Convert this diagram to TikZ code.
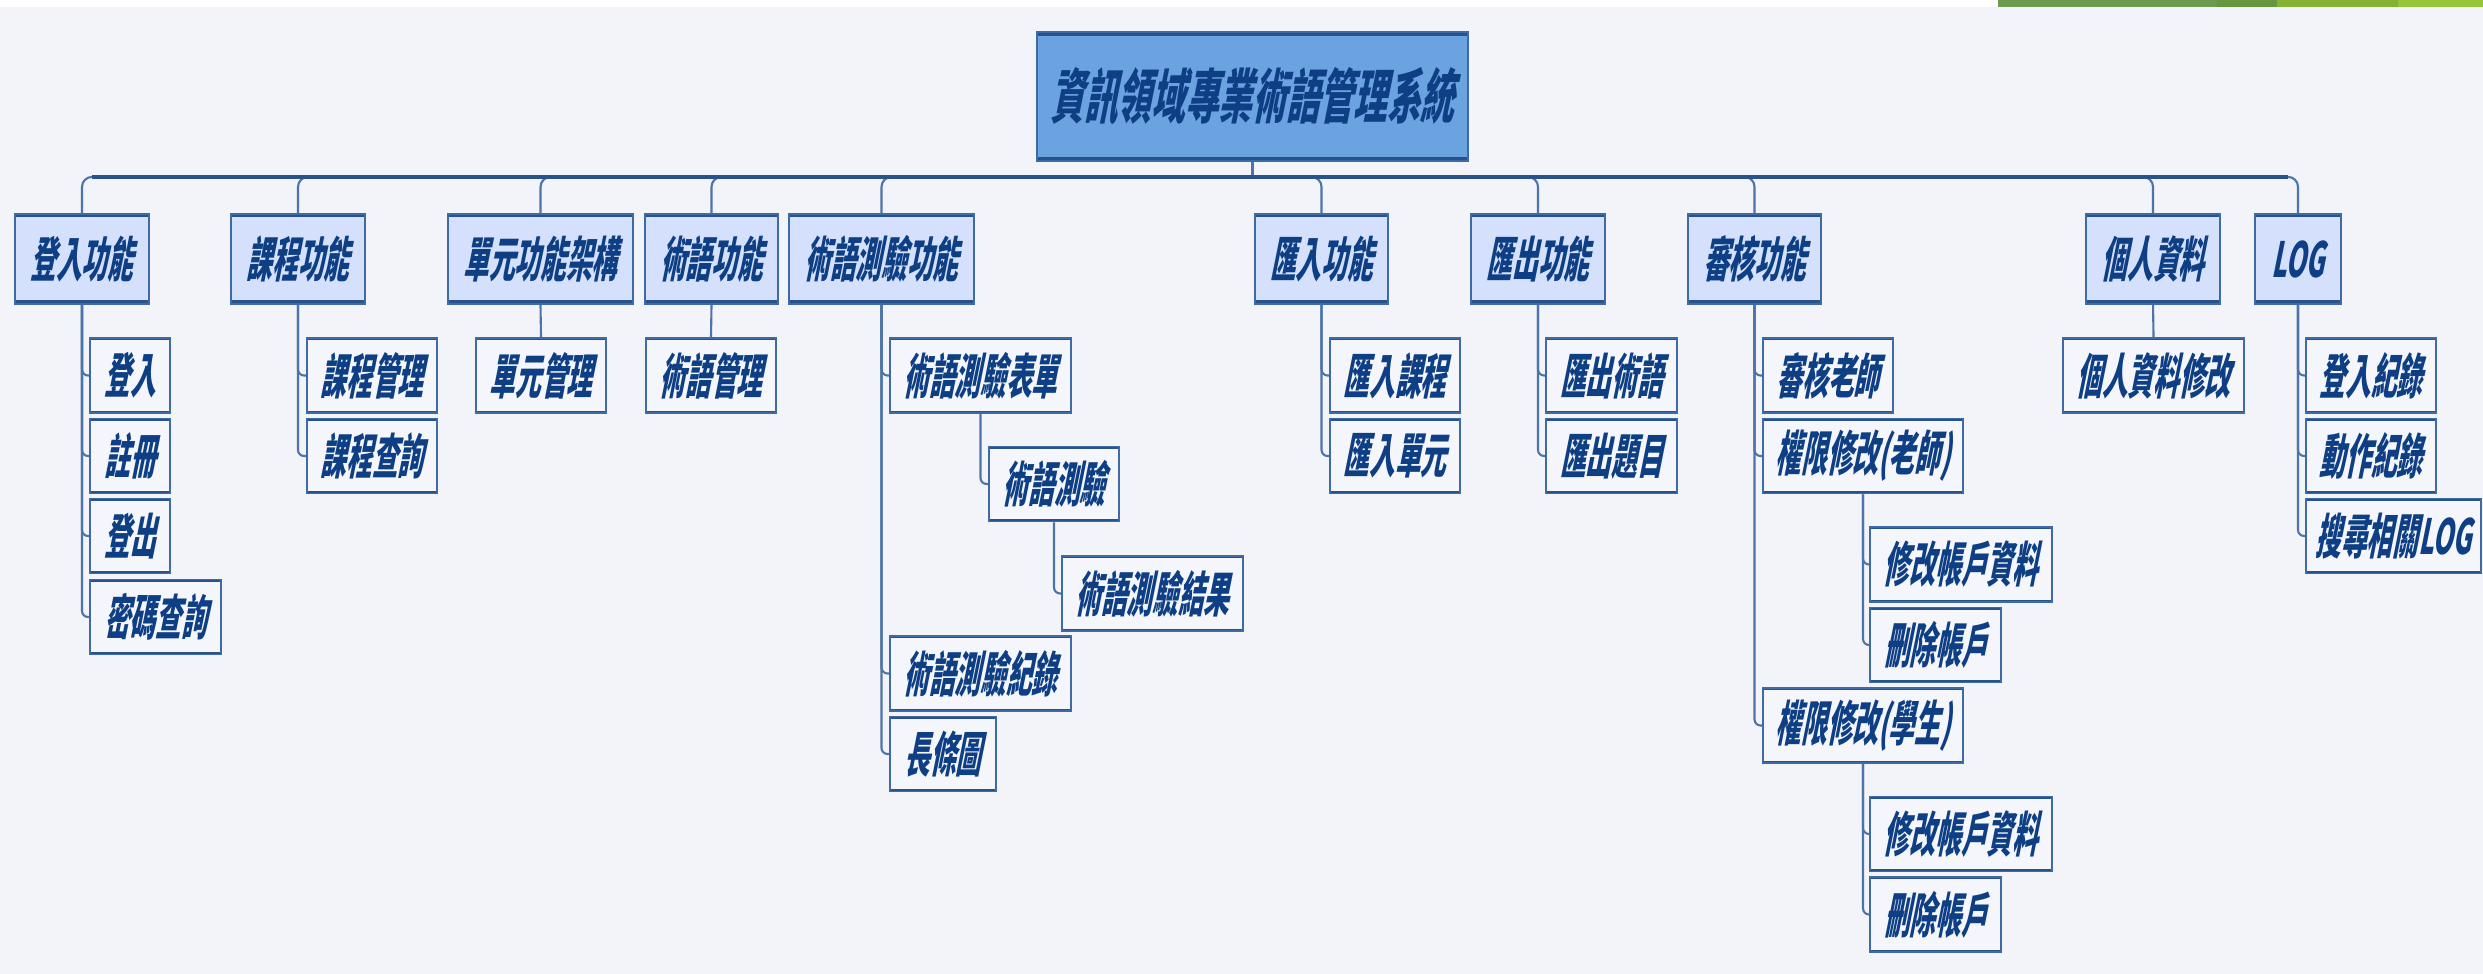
\documentclass[tikz,border=0pt]{standalone}
\usepackage{fontspec}
\usepackage{tikz}
\usepackage{xcolor}
\usetikzlibrary{positioning, calc}
\newfontfamily\cjk{Noto Sans CJK TC}[FakeSlant=0.2, FakeStretch=0.53]
\newfontfamily\cjkroot{Noto Sans CJK TC}[FakeSlant=0.2, FakeStretch=0.57]
\definecolor{bgpanel}{RGB}{242,244,249}
\definecolor{rootfill}{RGB}{106,163,224}
\definecolor{grpfill}{RGB}{212,224,252}
\definecolor{leaffill}{RGB}{245,246,251}
\definecolor{edge}{RGB}{62,106,166}
\definecolor{edgedark}{RGB}{40,82,140}
\definecolor{inkblue}{RGB}{14,63,132}
\definecolor{wire}{RGB}{77,116,168}
\definecolor{greenA}{RGB}{110,154,78}
\definecolor{greenB}{RGB}{102,150,62}
\definecolor{greenC}{RGB}{132,178,50}
\definecolor{greenD}{RGB}{149,197,58}
\tikzset{
  boxbase/.style={rectangle, draw=edge, line width=0.5pt, inner sep=0pt,
                  text=inkblue, font=\cjk\bfseries\fontsize{13.8}{16}\selectfont},
  edged/.style={path picture={
      \draw[edgedark, line width=#1]
        (path picture bounding box.north west) -- (path picture bounding box.north east)
        (path picture bounding box.south west) -- (path picture bounding box.south east);}},
  rootbox/.style={boxbase, fill=rootfill, edged=2.4pt, minimum height=1.29cm,
                  font=\cjkroot\bfseries\fontsize{16.8}{19}\selectfont},
  grpbox/.style={boxbase, fill=grpfill, edged=2pt, minimum height=0.9cm},
  leafbox/.style={boxbase, fill=leaffill, edged=1.2pt, minimum height=0.75cm},
  wired/.style={draw=wire, line width=0.6pt, rounded corners=0.6mm},
  buswire/.style={draw=edgedark, line width=1pt},
}

\begin{document}
\begin{tikzpicture}[x=0.01cm, y=-0.01cm]
  \useasboundingbox (0,0) rectangle (2483,974);
  \fill[bgpanel] (0,0) rectangle (2483,974);
  \fill[white]  (0,0) rectangle (2483,7);
  \fill[greenA] (1998,0) rectangle (2217,7);
  \fill[greenB] (2217,0) rectangle (2277,7);
  \fill[greenC] (2277,0) rectangle (2398,7);
  \fill[greenD] (2398,0) rectangle (2483,7);

  \node[rootbox, minimum width=4.31cm] (root) at (1252.5,96.5) {資訊領域專業術語管理系統};
  \coordinate[below=0.15cm of root] (bus);

  \node[grpbox, minimum width=1.34cm] (login)  at (82,259)     {登入功能};
  \node[grpbox, minimum width=1.34cm] (course) at (298,259)    {課程功能};
  \node[grpbox, minimum width=1.85cm] (unit)   at (540.5,259)  {單元功能架構};
  \node[grpbox, minimum width=1.33cm] (term)   at (711.5,259)  {術語功能};
  \node[grpbox, minimum width=1.85cm] (quiz)   at (881.5,259)  {術語測驗功能};
  \node[grpbox, minimum width=1.33cm] (imp)    at (1321.5,259) {匯入功能};
  \node[grpbox, minimum width=1.34cm] (exp)    at (1538,259)   {匯出功能};
  \node[grpbox, minimum width=1.33cm] (audit)  at (1754.5,259) {審核功能};
  \node[grpbox, minimum width=1.34cm] (prof)   at (2153,259)   {個人資料};
  \node[grpbox, minimum width=0.86cm] (log)    at (2298,259)   {LOG};

  \node[leafbox, minimum width=0.80cm] (login1) at (130,375.5)   {登入};
  \node[leafbox, minimum width=0.80cm] (login2) at (130,456)     {註冊};
  \node[leafbox, minimum width=0.80cm] (login3) at (130,536)     {登出};
  \node[leafbox, minimum width=1.31cm] (login4) at (155.5,617)   {密碼查詢};
  \node[leafbox, minimum width=1.30cm] (course1) at (372,375.5)  {課程管理};
  \node[leafbox, minimum width=1.30cm] (course2) at (372,456)    {課程查詢};
  \node[leafbox, minimum width=1.30cm] (unit1)  at (541,375.5)   {單元管理};
  \node[leafbox, minimum width=1.30cm] (term1)  at (711,375.5)   {術語管理};

  \node[leafbox, minimum width=1.81cm] (qform)  at (980.5,375.5)  {術語測驗表單};
  \node[leafbox, minimum width=1.30cm] (qtest)  at (1054,484)     {術語測驗};
  \node[leafbox, minimum width=1.81cm] (qres)   at (1152.5,593.5) {術語測驗結果};
  \node[leafbox, minimum width=1.81cm] (qrec)   at (980.5,673.5)  {術語測驗紀錄};
  \node[leafbox, minimum width=1.06cm] (qbar)   at (943,754)      {長條圖};

  \node[leafbox, minimum width=1.30cm] (imp1)   at (1395,375.5)   {匯入課程};
  \node[leafbox, minimum width=1.30cm] (imp2)   at (1395,456)     {匯入單元};
  \node[leafbox, minimum width=1.31cm] (exp1)   at (1611.5,375.5) {匯出術語};
  \node[leafbox, minimum width=1.31cm] (exp2)   at (1611.5,456)   {匯出題目};

  \node[leafbox, minimum width=1.30cm] (aT)     at (1828,375.5)   {審核老師};
  \node[leafbox, minimum width=2.00cm] (aPT)    at (1863,456)     {權限修改(老師)};
  \node[leafbox, minimum width=1.82cm] (aPT1)   at (1961,564.5)   {修改帳戶資料};
  \node[leafbox, minimum width=1.31cm] (aPT2)   at (1935.5,645)   {刪除帳戶};
  \node[leafbox, minimum width=2.00cm] (aPS)    at (1863,725.5)   {權限修改(學生)};
  \node[leafbox, minimum width=1.82cm] (aPS1)   at (1961,834)     {修改帳戶資料};
  \node[leafbox, minimum width=1.31cm] (aPS2)   at (1935.5,914.5) {刪除帳戶};

  \node[leafbox, minimum width=1.81cm] (prof1)  at (2153.5,375.5) {個人資料修改};
  \node[leafbox, minimum width=1.30cm] (log1)   at (2371,375.5)   {登入紀錄};
  \node[leafbox, minimum width=1.30cm] (log2)   at (2371,456)     {動作紀錄};
  \node[leafbox, minimum width=1.75cm] (log3)   at (2393.5,536)   {搜尋相關LOG};

  \draw[wired] (root.south) -- (bus);
  \foreach \g in {login,course,unit,term,quiz,imp,exp,audit,prof,log}
    \draw[wired, rounded corners=1mm] (bus) -| (\g.north);
  \draw[buswire] ($(bus -| login.north)+(1mm,0)$) -- ($(bus -| log.north)-(1mm,0)$);

  \foreach \c in {login1,login2,login3,login4} \draw[wired] (login.south) |- (\c.west);
  \foreach \c in {course1,course2} \draw[wired] (course.south) |- (\c.west);
  \draw[wired] (unit.south) -- (unit1.north);
  \draw[wired] (term.south) -- (term1.north);
  \foreach \c in {qform,qrec,qbar} \draw[wired] (quiz.south) |- (\c.west);
  \draw[wired] (qform.south) |- (qtest.west);
  \draw[wired] (qtest.south) |- (qres.west);
  \foreach \c in {imp1,imp2} \draw[wired] (imp.south) |- (\c.west);
  \foreach \c in {exp1,exp2} \draw[wired] (exp.south) |- (\c.west);
  \foreach \c in {aT,aPT,aPS} \draw[wired] (audit.south) |- (\c.west);
  \foreach \c in {aPT1,aPT2} \draw[wired] (aPT.south) |- (\c.west);
  \foreach \c in {aPS1,aPS2} \draw[wired] (aPS.south) |- (\c.west);
  \draw[wired] (prof.south) -- (prof1.north);
  \foreach \c in {log1,log2,log3} \draw[wired] (log.south) |- (\c.west);
\end{tikzpicture}
\end{document}
